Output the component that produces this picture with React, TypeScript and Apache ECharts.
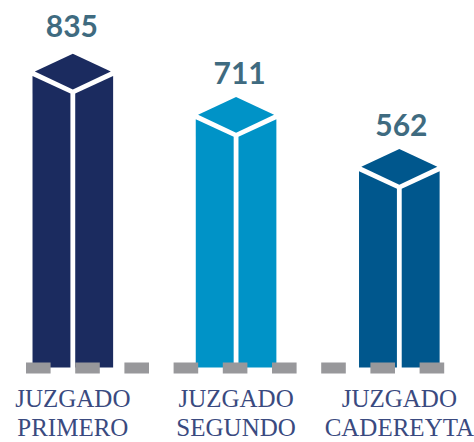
import React, { useEffect, useRef } from "react";
import * as echarts from "echarts";

const categories = ["JUZGADO\nPRIMERO", "JUZGADO\nSEGUNDO", "JUZGADO\nCADEREYTA"];
const values = [835, 711, 562];
const colors = ["#1b2b5f", "#0093c7", "#00578d"];
const labelNudgeX = [-1, 3.5, 2];
const labelNudgeY = [-4, 0, 0];

function renderBuilding(params: any, api: any) {
  const i = api.value(0);
  const v = api.value(1);
  const [cx, top] = api.coord([i, v]);
  const [, base] = api.coord([i, 0]);
  const color = colors[i];
  const hw = 40.3;
  const gap = 2.4;
  const polys = [
    [[cx - hw, top], [cx - gap, top + 17.4], [cx - gap, base], [cx - hw, base]],
    [[cx + gap, top + 17.4], [cx + hw, top], [cx + hw, base], [cx + gap, base]],
    [[cx, top - 22.3], [cx + 38, top - 4.6], [cx, top + 13.4], [cx - 38, top - 4.6]],
  ];
  return {
    type: "group",
    children: [
      ...polys.map((points) => ({
        type: "polygon",
        shape: { points },
        style: { fill: color },
      })),
      {
        type: "text",
        x: cx + labelNudgeX[i],
        y: top - 32 + labelNudgeY[i],
        style: {
          text: String(values[i]),
          fill: "#3f6b80",
          font: 'bold 30px Lato, "Open Sans", sans-serif',
          textAlign: "center",
          textVerticalAlign: "bottom",
        },
      },
    ],
  };
}

export default function App() {
  const ref = useRef<HTMLDivElement>(null);
  useEffect(() => {
    const chart = echarts.init(ref.current!, undefined, { renderer: "svg" });
    chart.setOption({
      animation: false,
      backgroundColor: "#ffffff",
      grid: { left: -8.8, top: 0, width: 489.75, height: 367.5, outerBoundsMode: "none" },
      xAxis: {
        type: "category",
        data: categories,
        axisLine: { show: false },
        axisTick: { show: false },
        axisLabel: {
          interval: 0,
          margin: 17,
          color: "#3a4a80",
          fontFamily: '"Liberation Serif", serif',
          fontSize: 25,
          lineHeight: 28.5,
          align: "center",
        },
      },
      yAxis: { type: "value", min: 0, max: 1053, show: false },
      series: [
        {
          type: "custom",
          coordinateSystem: "cartesian2d",
          clip: false,
          encode: { x: 0, y: 1 },
          data: values.map((v, i) => [i, v]),
          renderItem: renderBuilding,
        },
      ],
      graphic: [
        {
          type: "line",
          z: 100,
          shape: { x1: 26, y1: 368, x2: 445, y2: 368 },
          style: { stroke: "#98989b", lineWidth: 11, lineDash: [24.6, 24.6] },
        },
      ],
    });
    return () => chart.dispose();
  }, []);
  return (
    <div
      ref={ref}
      style={{ position: "fixed", left: 0, top: 0, width: 474, height: 442 }}
    />
  );
}
